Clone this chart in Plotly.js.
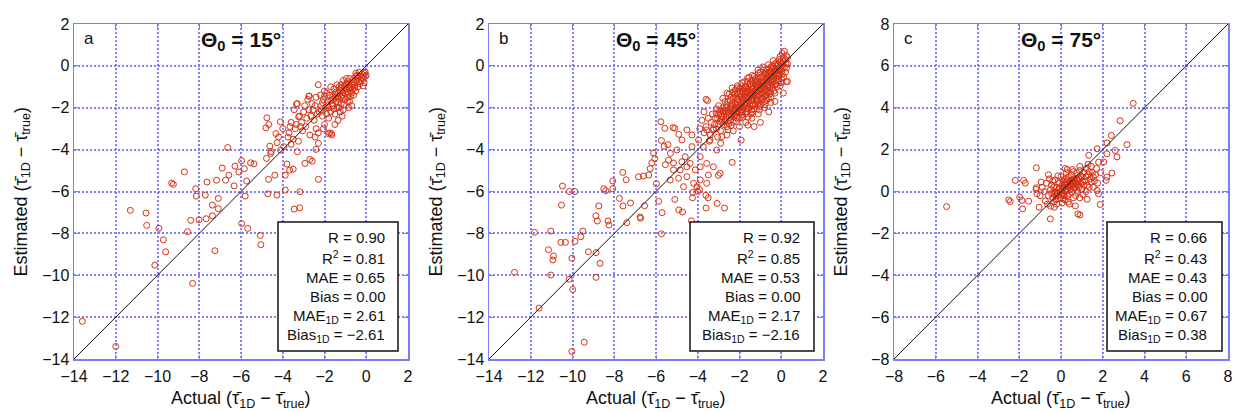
<!DOCTYPE html>
<html>
<head>
<meta charset="utf-8">
<script src="https://cdn.plot.ly/plotly-3.0.1.min.js"></script>
<style>html,body{margin:0;padding:0;background:#fff;}#chart{width:1235px;height:412px;}</style>
</head>
<body>
<div id="chart"></div>
<script>
// ---------------- DATA ----------------
const panelLetters = ['a', 'b', 'c'];
const solarZenith = [15, 45, 75];
const axisRanges = [[-14, 2], [-14, 2], [-8, 8]];
const statNames = ['R', 'R<sup>2</sup>', 'MAE', 'Bias', 'MAE<sub>1D</sub>', 'Bias<sub>1D</sub>'];
const statsA = ['0.90', '0.81', '0.65', '0.00', '2.61', '\u22122.61'];
const statsB = ['0.92', '0.85', '0.53', '0.00', '2.17', '\u22122.16'];
const statsC = ['0.66', '0.43', '0.43', '0.00', '0.67', '0.38'];

// [actual, estimated] pairs, panel a (Θ0 = 15°)
const pointsA = [
[-13.6,-12.2],[-12.0,-13.4],[-11.3,-6.9],[-10.55,-7.03],[-10.52,-7.62],[-9.93,-7.76],[-9.72,-8.31],[-9.61,-8.88],[-10.13,-9.52],
[-8.71,-5.06],[-9.32,-5.6],[-9.24,-5.66],[-8.17,-5.87],[-8.14,-6.22],[-7.63,-5.55],[-7.71,-6.17],[-7.17,-5.46],[-7.09,-6.33],
[-7.37,-6.65],[-7.09,-6.82],[-7.37,-7.16],[-7.67,-7.3],[-8.01,-7.35],[-8.41,-7.38],[-8.56,-7.92],[-7.25,-8.83],[-8.32,-10.39],
[-6.9,-4.88],[-6.74,-5.46],[-6.58,-5.22],[-6.29,-4.79],[-6.33,-5.73],[-6.1,-5.07],[-5.97,-4.53],[-5.84,-4.91],[-5.73,-5.5],
[-5.8,-6.22],[-5.54,-4.63],[-5.38,-4.68],[-6.64,-3.9],[-5.97,-7.53],[-5.68,-7.76],[-5.08,-8.1],[-5.05,-8.54],[-4.76,-2.48],
[-4.67,-2.8],[-4.81,-2.96],[-4.11,-2.67],[-4.33,-3.23],[-4.2,-3.39],[-4.27,-3.67],[-4.62,-3.83],[-4.55,-4.1],[-4.78,-4.42],
[-4.58,-4.18],[-4.1,-4.02],[-3.95,-3.86],[-3.8,-4.69],[-3.67,-4.98],[-3.5,-4.93],[-3.88,-5.22],[-4.38,-5.22],[-4.68,-5.42],
[-4.72,-6.11],[-4.28,-6.17],[-3.88,-5.93],[-3.18,-6.01],[-3.45,-6.84],[-3.19,-6.78],[-2.94,-4.66],[-2.7,-4.47],[-2.59,-4.55],
[-2.29,-5.42],[-2.41,-3.99],[-2.29,-3.7],[-1.82,-3.23],[-1.67,-3.23],[-3.34,-1.82],[-2.73,-1.44],[-3.24,-2.43],[-3.65,-2.9],
[-4.0,-3.0],[-3.75,-3.4],[-3.6,-3.75],[-3.3,-4.1],
[-0.1,-0.35],[-0.05,-0.5],[-0.2,-0.4],[-0.15,-0.6],[0,-0.45],[-0.3,-0.5],[-0.25,-0.7],[-0.1,-0.8],[-0.35,-0.3],[-0.05,-0.3],
[-0.5,-0.5],[-0.45,-0.7],[-0.55,-0.9],[-0.6,-0.6],[-0.4,-1.0],[-0.5,-1.2],[-0.65,-1.1],[-0.7,-0.8],[-0.5,-0.35],[-0.6,-1.4],
[-0.8,-0.6],[-0.85,-0.9],[-0.75,-1.2],[-0.9,-1.5],[-0.8,-1.7],[-0.95,-1.1],[-0.7,-1.9],[-0.9,-0.75],[-0.85,-2.0],[-1.0,-1.3],
[-1.1,-0.7],[-1.05,-1.0],[-1.15,-1.4],[-1.2,-1.8],[-1.1,-2.1],[-1.25,-1.2],[-1.0,-1.6],[-1.15,-2.4],[-1.2,-0.9],[-1.3,-1.6],
[-1.4,-0.9],[-1.35,-1.3],[-1.45,-1.7],[-1.4,-2.0],[-1.5,-2.3],[-1.35,-2.6],[-1.55,-1.1],[-1.45,-1.5],[-1.6,-1.9],[-1.5,-2.8],
[-1.7,-1.0],[-1.75,-1.4],[-1.65,-1.8],[-1.7,-2.2],[-1.8,-2.5],[-1.75,-3.2],[-1.65,-3.3],[-1.85,-1.7],[-1.8,-2.0],[-1.9,-1.3],
[-2.0,-1.2],[-2.05,-1.6],[-1.95,-2.0],[-2.1,-2.4],[-2.0,-2.8],[-2.15,-1.9],[-2.2,-1.4],[-2.05,-3.0],[-2.25,-2.2],[-2.3,-0.9],
[-2.4,-1.5],[-2.45,-1.9],[-2.35,-2.3],[-2.5,-2.6],[-2.4,-3.0],[-2.55,-2.1],[-2.6,-1.8],[-2.45,-3.4],[-2.3,-3.2],[-2.65,-2.4],
[-2.8,-1.6],[-2.75,-2.1],[-2.85,-2.5],[-2.9,-2.9],[-2.7,-3.3],[-3.0,-2.2],[-2.95,-1.9],[-3.1,-2.7],[-3.05,-3.1],[-2.75,-1.45],
[-3.3,-1.8],[-3.2,-2.4],[-3.35,-2.8],[-3.4,-3.0],[-3.5,-3.5],[-3.25,-3.6],[-3.6,-2.7],[-3.15,-2.9],[-3.45,-2.1],[-3.7,-3.2],
[-0.6,-0.75],[-0.7,-1.0],[-0.9,-1.25],[-1.0,-0.9],[-1.2,-1.5],[-1.3,-1.0],[-1.5,-1.35],[-1.6,-1.6],[-1.05,-1.85],[-0.75,-1.45],
[-0.95,-0.6],[-1.35,-1.75],[-1.55,-2.05],[-1.25,-2.2],[-1.9,-2.3],[-2.1,-1.75],[-0.4,-0.55],[-0.3,-0.85],[-0.55,-1.05],[-0.85,-1.35],
[-0.2,-0.55],[-0.35,-0.75],[-0.45,-0.45],[-0.65,-0.9],[-0.8,-1.05],[-0.95,-0.85],[-1.1,-1.2],[-1.2,-1.05],[-1.35,-1.45],[-1.45,-1.25],
[-1.6,-1.45],[-1.7,-1.65],[-1.85,-1.9],[-2.0,-1.45],[-2.15,-2.1],[-1.1,-1.55],[-0.9,-1.7],[-1.3,-2.0],[-0.7,-1.3],[-0.15,-0.95]
];

// [actual, estimated] pairs, panel b (Θ0 = 45°)
const pointsB = [
[-12.78,-9.86],[-11.82,-7.95],[-11.6,-11.57],[-11.04,-7.89],[-11.04,-9.99],[-11.15,-8.78],[-10.91,-9.08],[-10.94,-9.27],
[-10.48,-5.74],[-10.53,-6.65],[-10.56,-8.43],[-10.34,-8.43],[-10.15,-6.0],[-9.89,-6.0],[-10.03,-9.19],[-10.16,-10.19],
[-9.99,-10.68],[-10.03,-13.64],[-9.44,-13.2],[-9.88,-8.38],[-9.6,-8.16],[-9.5,-7.89],[-9.24,-8.88],[-8.87,-8.92],[-8.68,-9.43],
[-8.87,-10.1],[-8.81,-7.41],[-8.88,-7.16],[-8.74,-6.69],[-8.3,-7.41],[-8.25,-7.6],[-8.5,-5.87],[-8.41,-5.96],[-8.07,-5.87],
[-7.75,-6.33],[-7.58,-6.69],[-7.4,-7.49],[-7.22,-6.55],[-7.59,-5.09],[-7.43,-5.44],[-8.07,-5.5],[-6.84,-5.3],[-6.76,-7.22],
[-6.74,-7.28],[-6.55,-6.68],[-6.6,-5.26],[-6.35,-5.21],[-6.28,-4.91],[-6.2,-4.63],[-6.12,-4.16],[-6.06,-4.43],[-5.77,-2.67],
[-5.58,-2.98],[-5.71,-7.01],[-5.74,-8.02],[-5.87,-6.47],[-5.98,-5.63],[-5.74,-3.56],[-5.61,-3.84],[-5.43,-3.76],[-5.31,-4.18],
[-5.55,-4.72],[-5.16,-4.64],[-5.18,-2.95],[-5.1,-2.98],[-4.91,-3.27],[-5.1,-6.38],[-4.91,-6.88],[-4.73,-6.98],[-4.24,-6.04],
[-3.92,-5.9],[-3.61,-6.18],[-3.6,-6.79],[-3.07,-6.57],[-2.72,-6.79],[-3.01,-5.23],[-2.35,-4.61],[-3.53,-1.66],
[-4.52,-3.06],[-4.28,-3.3],[-4.76,-3.54],[-5.0,-4.02],[-4.6,-4.34],[-4.36,-4.66],[-4.84,-4.97],[-4.52,-5.29],[-4.12,-4.97],
[-3.88,-4.34],[-3.73,-3.86],[-3.41,-3.54],[-3.57,-3.06],[-3.09,-4.02],[-3.25,-4.82],[-3.88,-5.45],[-3.57,-5.61],[-4.2,-5.61],
[-4.68,-5.77],[-4.92,-5.37],[-5.32,-5.45],[-5.16,-4.97],[-5.4,-4.5],[-4.76,-4.58],[-4.28,-3.86],[-3.96,-3.54],[-3.25,-3.06],
[-2.85,-3.38],[-3.57,-4.66],[-3.49,-5.21],[-2.93,-5.13],[-3.88,-4.82],[-4.52,-4.82],[-4.04,-5.77],[-4.3,-7.4],[-4.25,-6.3],
[-4.0,-6.0],[-3.5,-6.3],
[0.25,0.5],[0.2,0.3],[0.3,0.1],[0.15,0.7],[0.25,-0.1],[0.3,0.4],[0.1,0.2],[0.2,-0.3],[0.05,0.6],[0.3,-0.75],
[0,0.1],[-0.05,-0.2],[0.05,-0.4],[-0.1,0.3],[0,-0.6],[-0.1,-0.1],[0.05,0.0],[-0.15,-0.35],[0.0,-0.8],[-0.05,0.45],
[-0.3,-0.1],[-0.25,-0.4],[-0.35,-0.7],[-0.3,0.1],[-0.2,-1.0],[-0.4,-0.3],[-0.3,-0.55],[-0.25,-0.85],[-0.35,-1.2],[-0.4,0.0],
[-0.6,-0.3],[-0.55,-0.6],[-0.65,-0.9],[-0.6,-1.2],[-0.5,-1.5],[-0.7,-0.15],[-0.6,-0.75],[-0.55,-1.05],[-0.7,-1.4],[-0.5,-1.75],
[-0.9,-0.5],[-0.85,-0.8],[-0.95,-1.1],[-0.9,-1.4],[-0.8,-1.7],[-1.0,-0.3],[-0.9,-0.95],[-0.85,-1.25],[-0.95,-1.6],[-0.8,-2.0],
[-1.2,-0.7],[-1.15,-1.0],[-1.25,-1.3],[-1.2,-1.6],[-1.1,-1.9],[-1.3,-0.5],[-1.2,-1.15],[-1.15,-1.45],[-1.25,-1.8],[-1.1,-2.3],
[-1.5,-0.9],[-1.45,-1.2],[-1.55,-1.5],[-1.5,-1.8],[-1.4,-2.1],[-1.6,-0.75],[-1.5,-1.35],[-1.45,-1.65],[-1.55,-2.0],[-1.4,-2.5],
[-1.8,-1.1],[-1.75,-1.4],[-1.85,-1.7],[-1.8,-2.0],[-1.7,-2.3],[-1.9,-0.95],[-1.8,-1.55],[-1.75,-1.85],[-1.85,-2.2],[-1.7,-2.7],
[-2.1,-1.3],[-2.05,-1.6],[-2.15,-1.9],[-2.1,-2.2],[-2.0,-2.5],[-2.2,-1.15],[-2.1,-1.75],[-2.05,-2.05],[-2.15,-2.4],[-2.0,-2.9],
[-2.4,-1.5],[-2.35,-1.8],[-2.45,-2.1],[-2.4,-2.4],[-2.3,-2.7],[-2.5,-1.35],[-2.4,-1.95],[-2.35,-2.25],[-2.45,-2.6],[-2.3,-3.1],
[-2.7,-1.7],[-2.65,-2.0],[-2.75,-2.3],[-2.7,-2.6],[-2.6,-2.9],[-2.8,-1.55],[-2.7,-2.15],[-2.65,-2.45],[-2.75,-2.8],[-2.6,-3.3],
[-3.0,-1.9],[-2.95,-2.2],[-3.05,-2.5],[-3.0,-2.8],[-2.9,-3.1],[-3.1,-2.05],[-3.0,-2.35],[-2.95,-2.65],[-3.05,-3.4],[-2.9,-3.7],
[-3.3,-2.3],[-3.35,-2.7],[-3.25,-3.0],[-3.4,-3.3],[-3.5,-2.5],[-3.6,-2.9],[-3.7,-3.2],[-3.45,-3.6],[-3.8,-2.6],[-3.6,-1.6],
[-3.9,-3.0],[-3.7,-2.2],
[-0.45,-0.5],[-0.75,-0.6],[-1.05,-0.85],[-1.35,-1.05],[-1.65,-1.25],[-1.95,-1.45],[-0.45,-0.9],[-0.75,-1.1],[-1.05,-1.35],
[-1.35,-1.55],[-1.65,-1.75],[-1.95,-1.95],[-2.25,-2.15],[-0.2,-0.65],[-0.5,-1.25],[-0.8,-1.45],[-1.1,-1.65],[-1.4,-1.85],
[-1.7,-2.05],[-2.0,-2.25],[-0.15,0.05],[-0.45,-0.15],[-0.8,-0.35],[-1.1,-0.55],[-1.4,-0.7],[-1.7,-0.95],[-2.0,-1.1],[-2.3,-1.25],
[-1.6,-2.83],[-1.92,-3.55],[0.24,-0.75],[-1.3,-2.9],[-1.0,-2.7],[-0.6,-2.2],[-0.3,-1.7],[0.1,-1.3],
[-0.1,-0.5],[-0.2,-0.2],[-0.35,-0.45],[-0.5,-0.65],[-0.65,-0.45],[-0.75,-0.85],[-0.9,-0.65],[-1.0,-1.05],[-1.15,-0.8],[-1.25,-1.15],
[-1.35,-0.85],[-1.45,-1.4],[-1.6,-1.1],[-1.7,-1.5],[-1.85,-1.25],[-1.95,-1.7],[-2.05,-1.35],[-2.2,-1.85],[-2.3,-1.55],[-2.45,-2.0],
[-2.55,-1.7],[-2.6,-2.2],[-2.8,-2.0],[-2.85,-2.45],[-0.05,-0.95],[-0.3,-1.3],[-0.55,-1.35],[-0.7,-1.65],[-0.95,-1.85],[-1.05,-2.1],
[-1.3,-2.05],[-1.45,-2.3],[-1.6,-2.45],[-1.85,-2.45],[-2.15,-2.65],[-2.4,-2.85],[-2.55,-3.05],[0.15,-0.05],[0.1,0.4],[-0.05,0.2],
[-0.2,0.0],[-0.5,-0.05],[-0.85,-0.2],[-1.1,-0.35],[-1.25,-0.6],[-1.55,-0.55],[-1.75,-0.75],[-2.1,-0.95],[-2.35,-1.05],[-2.6,-1.3],
[-0.4,-0.75],[-0.65,-1.0],[-0.8,-1.15],[-1.0,-1.5],[-1.3,-1.35],[-1.55,-1.65],[-1.8,-1.8],[-2.05,-1.95],[-2.25,-2.35],[-2.5,-2.45],
[-0.25,-0.25],[-0.55,-0.35],[-0.7,-0.55],[-1.0,-0.75],[-1.2,-0.95],[-1.45,-1.0],[-1.7,-1.2],[-1.95,-1.3],[-2.2,-1.5],[-2.45,-1.65],
[-0.15,-0.45],[-0.4,-0.6],[-0.6,-0.9],[-0.85,-1.0],[-1.1,-1.2],[-1.35,-1.45],[-1.6,-1.45],[-1.85,-1.6],[-2.1,-1.6],[-2.35,-1.9],
[-2.9,-2.3],[-3.15,-2.5],[-3.2,-2.8],[-2.85,-2.7],[-3.1,-3.0],[-2.5,-2.75],[-2.2,-2.05],[-1.9,-2.1],[-1.65,-2.2],[-1.35,-1.9],
[-0.05,-0.1],[-0.3,-0.3],[-0.5,-0.45],[-0.7,-0.7],[-0.95,-0.9],[-1.2,-1.25],[-1.4,-1.3],[-1.65,-1.55],[-1.9,-1.8],[-2.15,-2.0],
[-0.12,-0.72],[-0.42,-1.05],[-0.68,-1.25],[-0.92,-1.3],[-1.18,-1.7],[-1.42,-1.6],[-1.68,-1.9],[-1.92,-2.2],[-2.18,-2.25],[-2.42,-2.3],
[0.02,-0.25],[-0.22,0.15],[-0.48,-0.25],[-0.72,-0.35],[-0.98,-0.55],[-1.22,-0.8],[-1.48,-0.85],[-1.72,-1.05],[-1.98,-1.2],[-2.22,-1.35],
[-2.62,-1.85],[-2.78,-2.15],[-2.52,-2.3],[-2.68,-2.65],[-3.12,-2.25],[-2.88,-2.55],[-1.58,-1.3],[-0.82,-0.75],[-1.08,-0.95],[-0.58,-0.55],
[-0.28,-0.9],[-0.62,-1.55],[-0.88,-1.55],[-1.12,-1.8],[-1.38,-2.2],[-1.62,-2.05],[-1.88,-2.35],[-2.12,-2.5],[-0.78,-1.85],[-1.02,-1.95],
[-0.38,0.25],[-0.62,0.05],[-0.88,-0.05],[-1.12,-0.2],[-1.38,-0.45],[-1.62,-0.6],[-1.88,-0.8],[-2.12,-1.05],[0.12,-0.55],[0.22,0.1]
];

// [actual, estimated] pairs, panel c (Θ0 = 75°)
const pointsC = [
[-5.48,-0.72],[3.46,4.21],[2.83,3.38],[2.41,2.68],[2.2,2.32],[3.16,2.24],[1.73,2.04],[1.33,1.73],[2.6,1.96],[2.2,1.8],
[2.68,1.65],[2.04,1.41],[2.44,0.88],[2.2,0.69],[2.16,0.53],[1.73,0.05],[1.8,-0.11],[1.88,-0.62],[1.25,-0.37],[0.69,-0.69],
[0.81,-1.07],[-0.51,-1.31],[-0.32,-0.75],[-1.05,-0.75],[-1.18,0.18],[-1.18,1.13],[-2.19,0.53],[-1.79,0.53],[-1.71,0.4],
[-2.51,-0.4],[-2.43,-0.48],[-1.87,-0.43],[-1.55,-0.46],[-1.84,-0.83],[-1.98,-0.27],[-1.15,-0.11],[0.91,-1.12],
[-0.6,-0.2],[-0.5,0.1],[-0.4,-0.3],[-0.45,0.3],[-0.3,0.0],[-0.35,-0.5],[-0.2,0.2],[-0.25,-0.2],[-0.1,0.4],[-0.15,-0.1],
[0,0.0],[0.05,0.3],[-0.05,-0.3],[0.1,0.5],[0.1,-0.1],[0.15,0.2],[0.2,-0.4],[0.2,0.6],[0.25,0.1],[0.3,0.35],
[0.3,-0.2],[0.35,0.7],[0.4,0.2],[0.45,0.5],[0.4,-0.1],[0.5,0.0],[0.5,0.8],[0.55,0.3],[0.6,0.6],[0.6,-0.3],
[0.65,0.15],[0.7,0.45],[0.75,0.9],[0.8,0.3],[0.8,0.0],[0.85,0.65],[0.9,1.0],[0.95,0.4],[1.0,0.7],[1.0,0.1],
[1.1,0.9],[1.15,0.5],[1.2,1.1],[1.25,0.3],[1.3,0.8],[1.4,0.6],[1.45,1.2],[1.5,0.9],[1.6,0.5],[1.7,1.1],
[-0.7,0.4],[-0.8,0.0],[-0.75,-0.45],[-0.9,0.2],[-0.55,0.6],[-0.65,-0.6],[-0.3,0.55],[-0.2,-0.6],[0.0,0.7],[0.05,-0.55],
[0.25,0.9],[0.35,-0.5],[0.55,1.05],[0.7,-0.2],[0.9,1.2],[1.05,-0.15],[1.2,0.0],[1.35,0.2],[1.55,0.2],[1.65,0.8],
[-0.1,0.1],[0.1,0.15],[0.2,0.3],[0.3,0.05],[0.4,0.45],[0.5,0.25],[0.6,0.4],[0.7,0.2],[0.15,-0.2],[0.25,0.45],
[-0.2,-0.05],[0.0,-0.15],[0.45,0.1],[0.55,0.55],[0.65,0.35],[0.75,0.6],[0.85,0.2],[0.95,0.75],[-0.45,-0.1],[-0.35,0.2],
[1.8,1.4],[1.9,0.9],[1.75,0.4],[1.3,1.3],[1.1,0.3],[-0.5,-0.7],[-0.4,0.5],[0.3,1.05],[-1.0,-0.2],[-0.95,0.45],
[-0.6,0.8],[0.6,0.95],[0.4,-0.6],[-0.15,0.75],[1.45,0.45],[0.9,-0.3],[-0.25,-0.4],[0.1,-0.35],[-1.2,0.1],[0.2,1.1],
[0.05,0.1],[0.2,0.05],[0.35,0.25],[0.5,0.4],[0.65,0.55],[0.8,0.5],[0.15,0.35],[-0.05,0.15],[0.45,0.3],[0.3,0.55],
[0.6,0.2],[0.9,0.6],[1.05,0.45],[0.75,0.35],[-0.15,-0.2],[-0.3,-0.1],[0.1,-0.2],[1.2,0.7],[1.35,0.95],[1.55,0.7]
];

// ---------------- LAYOUT HELPERS ----------------
const W = 1235, H = 412;
const px = v => v / W;
const py = v => 1 - v / H;
const plotLefts = [74, 489, 894];
const plotW = 334, plotTop = 24, plotBottom = 359;
const allPoints = [pointsA, pointsB, pointsC];
const allStats = [statsA, statsB, statsC];
const boxOffsets = [[204, 324, 313], [201, 325, 313], [213, 328, 315]]; // left, right, text right (px from plot left)
const statLineY = [237, 257, 277, 296, 316, 335];

const markerColor = 'rgb(216,50,20)';
const gridBlue = 'rgb(128,128,255)';
const frameBlue = 'rgb(125,125,250)';
const tickFont = {family: 'Liberation Sans, Arial, sans-serif', size: 16, color: '#111'};

const traces = [];
const layout = {
  width: W, height: H,
  margin: {l: 0, r: 0, t: 0, b: 0},
  paper_bgcolor: '#fff', plot_bgcolor: '#fff',
  showlegend: false,
  shapes: [], annotations: []
};

allPoints.forEach((pts, i) => {
  const sfx = i === 0 ? '' : String(i + 1);
  const xa = 'x' + sfx, ya = 'y' + sfx;
  traces.push({
    type: 'scatter', mode: 'markers', xaxis: xa, yaxis: ya,
    x: pts.map(p => p[0]), y: pts.map(p => p[1]),
    marker: {symbol: 'circle-open', size: 6, color: markerColor, line: {width: 1, color: markerColor}},
    hoverinfo: 'skip'
  });
  const r = axisRanges[i];
  traces.push({
    type: 'scatter', mode: 'lines', xaxis: xa, yaxis: ya,
    x: r, y: r, line: {color: '#111', width: 1}, hoverinfo: 'skip'
  });
  const L = plotLefts[i];
  const axCommon = {
    range: r, dtick: 2, tick0: 0, showline: true, linecolor: frameBlue, linewidth: 1.5, mirror: 'ticks',
    ticks: 'inside', ticklen: 4, tickcolor: frameBlue, tickwidth: 1,
    showgrid: true, gridcolor: gridBlue, gridwidth: 2, griddash: '2px,2px', zeroline: false,
    tickfont: tickFont, fixedrange: true
  };
  layout['xaxis' + sfx] = Object.assign({}, axCommon, {
    domain: [px(L), px(L + plotW)], anchor: ya, ticklabelstandoff: 2
  });
  layout['yaxis' + sfx] = Object.assign({}, axCommon, {
    domain: [py(plotBottom), py(plotTop)], anchor: xa
  });

  layout.annotations.push({
    xref: 'paper', yref: 'paper', x: px(L + 8), y: py(39), xanchor: 'left', yanchor: 'middle',
    text: panelLetters[i], showarrow: false, font: {family: 'Liberation Sans, Arial', size: 17, color: '#111'}
  });
  layout.annotations.push({
    xref: 'paper', yref: 'paper', x: px(L + plotW / 2), y: py(26), xanchor: 'center', yanchor: 'top',
    text: '<b>\u0398<sub>0</sub> = ' + solarZenith[i] + '\u00b0</b>', showarrow: false,
    font: {family: 'Liberation Sans, Arial', size: 21, color: '#111'}
  });
  layout.annotations.push({
    xref: 'paper', yref: 'paper', x: px(L + plotW / 2), y: py(386), xanchor: 'center', yanchor: 'top',
    text: 'Actual (\u03c4\u0304<sub>1D</sub> \u2212 \u03c4\u0304<sub>true</sub>)', showarrow: false,
    font: {family: 'Liberation Sans, Arial', size: 18, color: '#111'}
  });
  layout.annotations.push({
    xref: 'paper', yref: 'paper', x: px(L - 52), y: py((plotTop + plotBottom) / 2), xanchor: 'center', yanchor: 'middle',
    textangle: -90,
    text: 'Estimated (\u03c4\u0304<sub>1D</sub> \u2212 \u03c4\u0304<sub>true</sub>)', showarrow: false,
    font: {family: 'Liberation Sans, Arial', size: 18, color: '#111'}
  });
  const bo = boxOffsets[i];
  layout.shapes.push({
    type: 'rect', xref: 'paper', yref: 'paper', layer: 'above',
    x0: px(L + bo[0]), x1: px(L + bo[1]), y0: py(351), y1: py(222),
    line: {color: '#111', width: 1.5}, fillcolor: '#fff'
  });
  statNames.forEach((nm, k) => {
    layout.annotations.push({
      xref: 'paper', yref: 'paper', x: px(L + bo[2]), y: py(statLineY[k]), xanchor: 'right', yanchor: 'middle',
      text: nm + ' = ' + allStats[i][k], showarrow: false,
      font: {family: 'Liberation Sans, Arial', size: 15, color: '#111'}
    });
  });
});

Plotly.newPlot('chart', traces, layout, {staticPlot: true, displayModeBar: false});
</script>
</body>
</html>
